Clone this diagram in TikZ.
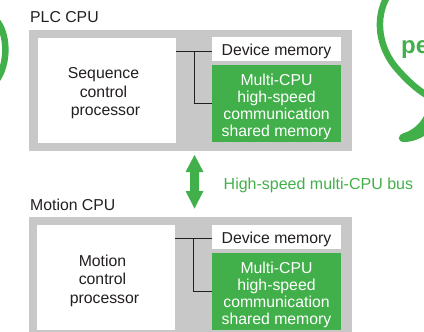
\documentclass[tikz,border=0pt]{standalone}
\usepackage{fontspec}
\setmainfont{Liberation Sans}
\definecolor{gbar}{HTML}{C8C8C8}
\definecolor{grn}{HTML}{42B04A}
\definecolor{txt}{HTML}{231F20}
\tikzset{
 fnt/.style={font=\fontsize{15.8}{18.5}\selectfont},
 panel/.style={fill=gbar,draw=none,anchor=north west,inner sep=0pt},
 proc/.style={fill=white,draw=none,anchor=north west,inner sep=0pt,minimum width=138pt,minimum height=105pt},
 lbl/.style={align=center,inner sep=0pt,fnt,text=txt},
 devm/.style={fill=white,draw=none,anchor=north west,inner sep=0pt,minimum width=129pt,minimum height=24pt},
 shm/.style={fill=grn,draw=none,anchor=north west,inner sep=0pt,minimum width=129pt,minimum height=77pt},
 shl/.style={align=center,inner sep=0pt,text=white,font=\fontsize{15.8}{17}\selectfont},
 ttl/.style={anchor=base west,inner sep=0pt,fnt,text=txt},
 wire/.style={draw=txt,line width=0.9pt},
 blob/.style={draw=grn,line width=6.5pt,line cap=round},
}
\begin{document}
\begin{tikzpicture}[x=1pt,y=-1pt]
\useasboundingbox (0,0) rectangle (424,332);
\clip (0,0) rectangle (424,332);
% decorative balloons
\draw[blob] (-4,20) .. controls (8,33) and (9,64) .. (-4,81);
\draw[blob] (387,-3) .. controls (375,18) and (378,48) .. (398,70) .. controls (406,79) and (416,89) .. (428,96);
\fill[grn] (427,110) .. controls (421,124) and (413,130) .. (404,133) .. controls (397,135) and (397,142) .. (404,142) .. controls (412,142) and (420,139) .. (427,134) -- cycle;
\node[anchor=base west,inner sep=0pt,text=grn,font=\fontsize{24}{28}\bfseries\selectfont] (pe) at (401,53) {pe};
% PLC CPU
\node[ttl] (t1) at (30,23) {PLC CPU};
\node[panel,minimum width=323pt,minimum height=121pt] (p1) at (29,30) {};
\node[proc] (a1) at (38,38) {};
\node[lbl] (at1) at (103.5,93.5) {Sequence\\control\\\hspace*{4pt}processor};
\node[devm] (d1) at (212,37) {};
\node[lbl] (dt1) at (276.5,51.5) {Device memory};
\node[shm] (s1) at (212,65) {};
\node[shl] (st1) at (276.5,107) {Multi-CPU\\high-speed\\communication\\shared memory};
\coordinate (j1) at (194,51);
\draw[wire] (a1.east |- j1) -- (d1.west |- j1);
\draw[wire] (j1) |- (s1.west);
% Motion CPU
\node[ttl] (t2) at (30,210) {Motion CPU};
\node[panel,minimum width=323pt,minimum height=121pt] (p2) at (29,217) {};
\node[proc] (a2) at (37,225) {};
\node[lbl] (at2) at (102.5,280.5) {Motion\\control\\\hspace*{4pt}processor};
\node[devm] (d2) at (212,225) {};
\node[lbl] (dt2) at (276.5,239.5) {Device memory};
\node[shm] (s2) at (212,253) {};
\node[shl] (st2) at (276.5,295) {Multi-CPU\\high-speed\\communication\\shared memory};
\coordinate (j2) at (193,238);
\draw[wire] (a2.east |- j2) -- (d2.west |- j2);
\draw[wire] (j2) |- (s2.west);
% bus arrow
\fill[grn] (194.5,155) -- (203.5,172) -- (199,172) -- (199,191) -- (203.5,191) -- (194.5,208.5) -- (185.5,191) -- (190,191) -- (190,172) -- (185.5,172) -- cycle;
\node[anchor=base west,inner sep=0pt,text=grn,font=\fontsize{16}{18}\selectfont] (bus) at (223.5,189) {High-speed multi-CPU bus};
\end{tikzpicture}
\end{document}
